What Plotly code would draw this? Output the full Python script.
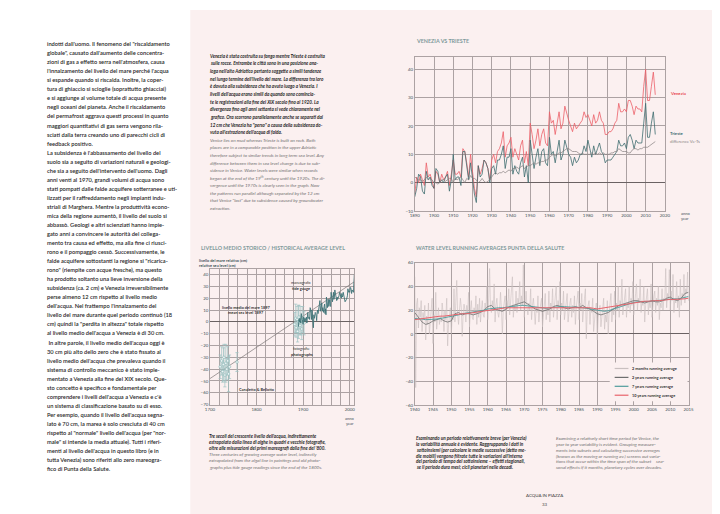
import plotly.graph_objects as go

W, H = 720, 514
PAGE = "#FBF0F0"
GRID = "#ACA2A3"
ZERO = "#6A6263"
TICK = "#3E5257"
TEAL = "#3E7477"
RED = "#EC5F68"
TITLE_C = "#7F9A9B"
FONT = "Lato"


def X(px):
    return px / W


def Y(py):
    return 1 - py / H


# ---------------- DATA: Venezia vs Trieste (annual, cm) ----------------
years_vt = list(range(1890, 2016))
venezia = [
    -4, 2, 0, 3, 1, -1, 7, 2, 3, 0,
    -2, 4, 3, 0, 3, 1, 2, 4, -1, 3,
    8, 3, 3, 4, 2, 12, 11, 7, 2, 10,
    3, -2, -5, 6, 3, 5, 8, 7, 5, 1,
    8, 10, 7, 11, 12, 14, 18, 9, 13, 14,
    16, 9, 12, 10, 8, 13, 15, 7, 11, 6,
    21, 17, 12, 15, 19, 13, 17, 19, 14, 13,
    25, 21, 22, 17, 21, 25, 19, 21, 27, 24,
    22, 20, 18, 21, 19, 20, 21, 22, 25, 23,
    24, 22, 20, 24, 21, 22, 25, 22, 21, 17,
    17, 18, 18, 19, 21, 22, 28, 25, 25, 26,
    25, 29, 29, 27, 24, 27, 26, 26, 25, 34,
    40, 29, 29, 34, 39, 31,
]
trieste = [
    -5, -2, 3, 2, -3, -4, 4, 1, 2, -1,
    -2, 5, 4, 0, 1, 0, 2, 3, -3, 1,
    10, 1, 2, 2, -1, 11, 11, 5, 1, 7,
    1, -4, -7, 6, 2, 3, 8, 7, 5, 0,
    5, 6, 3, 8, 8, 10, 13, 5, 9, 9,
    12, 3, 6, 4, 3, 7, 9, 2, 6, 0,
    15, 10, 5, 9, 12, 6, 11, 12, 7, 6,
    16, 10, 11, 7, 11, 15, 8, 10, 15, 12,
    10, 9, 6, 9, 7, 8, 10, 10, 13, 11,
    15, 12, 9, 13, 10, 12, 14, 11, 10, 7,
    8, 8, 8, 9, 10, 11, 15, 13, 13, 14,
    12, 16, 17, 15, 12, 15, 14, 14, 14, 21,
    28, 16, 16, 21, 25, 17,
]
diff_ve_ts = [
    2, 1.5, 1, 1, 0.5, 1, 2, 1, 1.5, 1,
    0, 0, -0.5, 0, 1, 1, 0.5, 1, 1.5, 1.5,
    0, 1.5, 1, 1.5, 2, 1, 0, 1.5, 1, 2.5,
    1.5, 1.5, 1, 0, 0.5, 1.5, 0.5, 0, 0.5, 1,
    2, 3, 3.5, 3, 3.5, 3.5, 4, 3.5, 4, 4.5,
    4, 5, 5, 5.5, 5, 5.5, 6, 5, 5.5, 6,
    6, 6.5, 7, 6.5, 7, 7, 7.5, 7.5, 8, 8,
    9, 9.5, 10, 9.5, 10, 10.5, 10.5, 11, 11.5, 12,
    12, 11.5, 11, 11, 11, 10.5, 10, 10.5, 10, 10,
    10, 10, 10.5, 10, 10.5, 10, 10.5, 10, 10.5, 10,
    10, 10, 10.5, 10.5, 11, 11, 12, 11.5, 11, 11,
    11, 10.5, 10.5, 11.5, 12, 12, 11.5, 12, 12, 12.5,
    12.5, 12.5, 13, 13.5, 14, 14.5,
]
vt_xticks = list(range(1890, 2021, 10))
vt_yticks = [-10, 0, 10, 20, 30, 40]

# ---------------- DATA: historical average level ----------------
trend_years = [1700, 2010]
trend_values = [-48, 34]
canaletto_years = [1722, 1725, 1727, 1729, 1730, 1732, 1734, 1736, 1738, 1740, 1742, 1758]
canaletto_values = [-38, -33, -42, -36, -30, -45, -35, -40, -33, -44, -38, -34]
canaletto_err = [10, 12, 9, 14, 11, 10, 16, 9, 12, 15, 10, 8]
photo_years = [1882, 1884, 1885, 1887, 1888, 1890, 1891, 1893, 1895, 1897, 1899, 1902]
photo_values = [-2, 3, -5, 2, -8, 0, 4, -3, 1, -6, 2, -1]
photo_err = [10, 12, 8, 11, 9, 14, 10, 8, 12, 9, 11, 10]
hist_xticks = [1700, 1800, 1900, 2000]
hist_xtick_labels = ["1700", "1800", "1900", "2000"]
hist_yticks = [40, 30, 20, 10, 0, -10, -20, -30, -40, -50, -60, -70]

# ---------------- DATA: running averages Punta della Salute ----------------
ra_years = list(range(1940, 2016))
months_2 = [
    48, -45, 25, 30, 5, 22, 14, 28, 2, 18, 12, 24, -5, 15, 8, 26,
    0, 12, 20, 30, -8, 16, 10, 35, 4, 14, 22, 8, 15, 10, 26, 18,
    2, 20, 12, 30, -10, 8, 18, 22, 0, 15, 12, 38, 10, 28, 45, 16,
    8, 20, 30, 22, -2, 16, 25, 20, 10, 24, 18, 35, 6, 20, 28, 14,
    12, 22, 16, 32, 8, 25, 14, 30, 10, 20, 28, 16, 14, 26, 20, 40,
    12, 30, 55, 22, 18, 28, 20, 42, 10, 24, 30, 18, 14, 22, 35, 20,
    0, 20, 26, 32, 12, 28, 22, 38, 16, 26, 30, 48, 14, 24, 20, 36,
    18, 30, 26, 44, 20, 32, 24, 58, 14, 28, 36, 22, 16, 26, 20, 38,
    12, 24, 30, 20, 8, 22, 18, 32, 10, 20, 26, 30, 6, 18, 24, 34,
    12, 22, 16, 36, 10, 26, 20, 38, 14, 24, 30, 40, 12, 28, 22, 44,
    16, 26, 20, 36, 12, 22, 28, 34, 10, 20, 26, 30, 14, 24, 18, 32,
    8, 22, 28, 36, 12, 26, 20, 34, 10, 24, 30, 38, -4, 20, 26, 28,
    8, 22, 18, 30, 2, 16, 20, 26, -5, 14, 18, 24, 6, 12, 22, 30,
    4, 16, 10, 28, 0, 18, 24, 34, 10, 22, 16, 36, 12, 26, 20, 40,
    14, 28, 24, 46, 16, 24, 32, 38, 14, 26, 22, 40, 18, 30, 24, 44,
    16, 28, 34, 42, 20, 30, 26, 46, 18, 28, 24, 40, 10, 24, 30, 38,
    16, 28, 22, 42, 14, 26, 32, 36, 18, 30, 24, 40, 12, 26, 22, 38,
    20, 30, 28, 55, 22, 34, 30, 54, 20, 36, 28, 50, 18, 30, 26, 44,
    22, 32, 14, 46, 24, 34, 30, 50, 26, 38, 34, 52, 28, 36,
]
months_2_x = [y + q * 0.25 for y in ra_years for q in range(4)][:len(months_2)]
years_2 = [
    18, 14, 10, 8, 9, 11, 12, 13, 11, 10,
    11, 17, 18, 16, 17, 17, 16, 17, 18, 20,
    23, 24, 21, 20, 19, 21, 23, 24, 25, 26,
    27, 25, 23, 21, 20, 19, 20, 21, 23, 24,
    23, 22, 21, 22, 23, 22, 24, 22, 21, 19,
    17, 16, 17, 18, 20, 22, 24, 25, 26, 27,
    28, 28, 27, 26, 27, 28, 27, 27, 28, 30,
    31, 29, 28, 30, 34, 35,
]
years_7 = [
    13, 13, 12.5, 12, 12, 12, 12.5, 13, 13.5, 14,
    14.5, 15, 16, 17, 17.5, 18, 18, 18.5, 19, 20,
    21, 21.5, 22, 22, 22, 22.5, 23, 23.5, 24, 24,
    24, 23.5, 23, 22.5, 22, 21.5, 21.5, 22, 22.5, 23,
    23, 23, 22.5, 22.5, 22.5, 22.5, 22, 21.5, 21, 20,
    19.5, 19, 19, 19.5, 20.5, 21.5, 23, 24, 25, 26,
    26.5, 27, 27, 27, 27, 27.5, 28, 28, 28.5, 29,
    29, 29.5, 29.5, 30, 31, 31.5,
]
years_10 = [
    12, 12.5, 13, 13.5, 14, 14, 14.5, 15, 15, 15.5,
    16, 16.5, 16.5, 17, 17, 17.5, 18, 18.5, 19, 19.5,
    20, 20.5, 21, 21, 21.5, 22, 22, 22, 22.5, 22.5,
    22.5, 22.5, 22.5, 22, 22, 22, 22, 22, 22, 22.5,
    22.5, 22.5, 22.5, 22.5, 22.5, 22.5, 22.5, 22, 22, 21.5,
    21, 21.5, 22, 22.5, 23, 24, 24.5, 25, 25.5, 26,
    26.5, 27, 27, 27.5, 27.5, 28, 28, 28, 28.5, 28.5,
    29, 29, 29, 29.5, 29.5, 30,
]
ra_names = ["2 months running average", "2 years running average",
            "7 years running average", "10 years running average"]
ra_xticks = list(range(1940, 2016, 5))
ra_yticks = [-60, -40, -20, 0, 20, 40, 60]

# ---------------- TEXT ----------------
left_lines = [
    "indotti dall'uomo. Il fenomeno del \"riscaldamento",
    "globale\", causato dall'aumento delle concentra-",
    "zioni di gas a effetto serra nell'atmosfera, causa",
    "l'innalzamento del livello del mare perché l'acqua",
    "si espande quando si riscalda. Inoltre, la coper-",
    "tura di ghiaccio si scioglie (soprattutto ghiacciai)",
    "e si aggiunge al volume totale di acqua presente",
    "negli oceani del pianeta. Anche il riscaldamento",
    "del permafrost aggrava questi processi in quanto",
    "maggiori quantitativi di gas serra vengono rila-",
    "sciati dalla terra creando uno di parecchi cicli di",
    "feedback positivo.",
    "La subsidenza è l'abbassamento del livello del",
    "suolo sia a seguito di variazioni naturali e geologi-",
    "che sia a seguito dell'intervento dell'uomo. Dagli",
    "anni venti al 1970, grandi volumi di acqua sono",
    "stati pompati dalle falde acquifere sotterranee e uti-",
    "lizzati per il raffreddamento negli impianti indu-",
    "striali di Marghera. Mentre la produttività econo-",
    "mica della regione aumentò, il livello del suolo si",
    "abbassò. Geologi e altri scienziati hanno impie-",
    "gato anni a convincere le autorità del collega-",
    "mento tra causa ed effetto, ma alla fine ci riusci-",
    "rono e il pompaggio cessò. Successivamente, le",
    "falde acquifere sottostanti la regione si \"ricarica-",
    "rono\" (riempite con acque fresche), ma questo",
    "ha prodotto soltanto una lieve inversione della",
    "subsidenza (ca. 2 cm) e Venezia irreversibilmente",
    "perse almeno 12 cm rispetto al livello medio",
    "dell'acqua. Nel frattempo l'innalzamento del",
    "livello del mare durante quel periodo continuò (18",
    "cm) quindi la \"perdita in altezza\" totale rispetto",
    "al livello medio dell'acqua a Venezia è di 30 cm.",
    "\u00a0In altre parole, il livello medio dell'acqua oggi è",
    "30 cm più alto dello zero che è stato fissato al",
    "livello medio dell'acqua che prevaleva quando il",
    "sistema di controllo meccanico è stato imple-",
    "mentato a Venezia alla fine del XIX secolo. Que-",
    "sto concetto è specifico e fondamentale per",
    "comprendere i livelli dell'acqua a Venezia e c'è",
    "un sistema di classificazione basato su di esso.",
    "Per esempio, quando il livello dell'acqua segna-",
    "lato è 70 cm, la marea è solo cresciuta di 40 cm",
    "rispetto al \"normale\" livello dell'acqua (per \"nor-",
    "male\" si intende la media attuale). Tutti i riferi-",
    "menti al livello dell'acqua in questo libro (e in",
    "tutta Venezia) sono riferiti allo zero mareogra-",
    "fico di Punta della Salute.",
]
mid_it_lines = [
    "Venezia è stata costruita su fango mentre Trieste è costruita",
    "sulle rocce. Entrambe le città sono in una posizione ana-",
    "loga nell'alto Adriatico pertanto soggette a simili tendenze",
    "nel lungo termine dell'livello del mare. La differenza tra loro",
    "è dovuta alla subsidenza che ha avuto luogo a Venezia. I",
    "livelli dell'acqua erano simili da quando sono comincia-",
    "te le registrazioni alla fine del XIX secolo fino al 1920. La",
    "divergenza fino agli anni settanta si vede chiaramente nel",
    "grafico. Ora scorrono parallelamente anche se separati dai",
    "12 cm che Venezia ha \"perso\" a causa della subsidenza do-",
    "vuta all'estrazione dell'acqua di falda.",
]
mid_en_lines = [
    "Venice lies on mud whereas Trieste is built on rock. Both",
    "places are in a comparable position in the upper Adriatic",
    "therefore subject to similar trends in long term sea level. Any",
    "difference between them in sea level change is due to sub-",
    "sidence in Venice. Water levels were similar when records",
    "began at the end of the 19<sup>th</sup> century until the 1920s. The di-",
    "vergence until the 1970s is clearly seen in the graph. Now",
    "the patterns run parallel although separated by the 12 cm",
    "that Venice \"lost\" due to subsidence caused by groundwater",
    "extraction.",
]
cap_mid_it = [
    "Tre secoli del crescente livello dell'acqua, indirettamente",
    "estrapolato dalla linea di alghe in quadri e vecchie fotografie,",
    "oltre alle misurazioni dei primi mareografi dalla fine del '800.",
]
cap_mid_en = [
    "Three centuries of growing average water level, indirectly",
    "extrapolated from the algal line in paintings and old photo-",
    "graphs plus tide gauge readings since the end of the 1800s.",
]
cap_right_it = [
    "Esaminando un periodo relativamente breve (per Venezia)",
    "la variabilità annuale è evidente. Raggruppando i dati in",
    "sottoinsiemi (per calcolare le medie successive (detto me-",
    "die mobili) vengono filtrate tutte le variazioni all'interno",
    "del periodo di tempo del sottoinsieme – effetti stagionali,",
    "se il periodo dura mesi; cicli planetari nelle decadi.",
]
cap_right_en = [
    "Examining a relatively short time period for Venice, the",
    "year to year variability is evident. Grouping measure-",
    "ments into subsets and calculating successive averages",
    "(known as the moving or running av.) screens out varia-",
    "tions that occur within the time span of the subset – sea-",
    "sonal effects if it months, planetary cycles over decades.",
]

# ---------------- FIGURE ----------------
fig = go.Figure()

# Chart 1: Venezia vs Trieste
fig.add_trace(go.Scatter(x=years_vt, y=venezia, mode="lines", line=dict(color=RED, width=0.8),
                         xaxis="x", yaxis="y", name="Venezia"))
fig.add_trace(go.Scatter(x=years_vt, y=trieste, mode="lines", line=dict(color="#3F6D70", width=0.8),
                         xaxis="x", yaxis="y", name="Trieste"))
fig.add_trace(go.Scatter(x=years_vt, y=diff_ve_ts, mode="lines", line=dict(color="#858080", width=0.7),
                         xaxis="x", yaxis="y", name="difference Ve-Ts"))

# Chart 2: historical
fig.add_trace(go.Scatter(x=trend_years, y=trend_values, mode="lines", line=dict(color="#7D7777", width=0.7),
                         xaxis="x2", yaxis="y2", name="trend"))
fig.add_trace(go.Scatter(x=canaletto_years, y=canaletto_values, mode="markers",
                         marker=dict(size=2.6, color="#EEF5F5", line=dict(color="#88B5B5", width=0.6)),
                         error_y=dict(type="data", array=canaletto_err, color="#9EC3C3", thickness=0.7, width=1.6),
                         xaxis="x2", yaxis="y2", name="Canaletto & Bellotto"))
fig.add_trace(go.Scatter(x=photo_years, y=photo_values, mode="markers",
                         marker=dict(size=2.6, color="#EEF5F5", line=dict(color="#88B5B5", width=0.6)),
                         error_y=dict(type="data", array=photo_err, color="#9EC3C3", thickness=0.7, width=1.6),
                         xaxis="x2", yaxis="y2", name="fotografie"))
fig.add_trace(go.Scatter(x=years_vt, y=venezia, mode="lines", line=dict(color=TEAL, width=0.9),
                         xaxis="x2", yaxis="y2", name="tide gauge"))

# Chart 3: running averages
ra_colors = ["#C9C0C0", "#6E6E6E", "#4E9C9C", "#E8636B"]
ra_widths = [0.6, 0.8, 0.9, 1.0]
fig.add_trace(go.Scatter(x=months_2_x, y=months_2, mode="lines", line=dict(color=ra_colors[0], width=ra_widths[0]),
                         xaxis="x3", yaxis="y3", name=ra_names[0]))
for vals, c, w, n in zip([years_2, years_7, years_10], ra_colors[1:], ra_widths[1:], ra_names[1:]):
    fig.add_trace(go.Scatter(x=ra_years, y=vals, mode="lines", line=dict(color=c, width=w),
                             xaxis="x3", yaxis="y3", name=n))

tickfont = dict(family=FONT, size=4.4, color=TICK)
base = dict(showgrid=True, gridcolor=GRID, gridwidth=0.6, ticks="", tickfont=tickfont,
            showline=True, mirror=True, linecolor=GRID, linewidth=0.6, zeroline=False)

fig.update_layout(
    width=W, height=H, margin=dict(l=0, r=0, t=0, b=0),
    paper_bgcolor="#FFFFFF", plot_bgcolor="rgba(0,0,0,0)", showlegend=False,
    xaxis=dict(base, domain=[X(408), X(662)], range=[1890, 2020], tickmode="array", tickvals=vt_xticks,
               anchor="y"),
    yaxis=dict(base, domain=[Y(203), Y(47)], range=[-10, 44.5], tickmode="array", tickvals=vt_yticks,
               zeroline=True, zerolinecolor=ZERO, zerolinewidth=0.8, anchor="x"),
    xaxis2=dict(base, domain=[X(200), X(346.7)], range=[1700, 2010], tickmode="array",
                tickvals=hist_xticks, ticktext=hist_xtick_labels, anchor="y2",
                minor=dict(tickmode="linear", tick0=1700, dtick=20, showgrid=True, gridcolor=GRID, gridwidth=0.5)),
    yaxis2=dict(base, domain=[Y(398.5), Y(261.2)], range=[-70, 45], tickmode="array", tickvals=hist_yticks,
                zeroline=True, zerolinecolor=ZERO, zerolinewidth=0.8, anchor="x2"),
    xaxis3=dict(base, domain=[X(408), X(686)], range=[1940, 2015], tickmode="array", tickvals=ra_xticks,
                anchor="y3"),
    yaxis3=dict(base, domain=[Y(399.3), Y(255)], range=[-60, 60], tickmode="array", tickvals=ra_yticks,
                zeroline=True, zerolinecolor=ZERO, zerolinewidth=0.8, anchor="x3"),
)

shapes = [dict(type="rect", xref="paper", yref="paper", x0=X(180), x1=1, y0=0, y1=1,
               fillcolor=PAGE, line=dict(width=0), layer="below")]
# legend box for chart 3
shapes.append(dict(type="rect", xref="paper", yref="paper", x0=X(606), x1=X(685), y0=Y(395), y1=Y(356),
                   fillcolor=PAGE, line=dict(width=0), layer="above"))
leg_y = [362, 371, 380, 389]
for yy, c in zip(leg_y, ra_colors):
    shapes.append(dict(type="line", xref="paper", yref="paper", x0=X(611), x1=X(625), y0=Y(yy), y1=Y(yy),
                       line=dict(color=c, width=1.2), layer="above"))
fig.update_layout(shapes=shapes)

ann = []


def txt(x, y, s, size=5.0, color="#222222", anchor="left", weight="normal", family=FONT):
    ann.append(dict(x=X(x), y=Y(y), xref="paper", yref="paper", text=s, showarrow=False,
                    xanchor=anchor, yanchor="middle", borderpad=0,
                    font=dict(family=family, size=size, color=color, weight=weight)))


for i, s in enumerate(left_lines):
    txt(34, 34 + i * 9.13, s, size=5.7, color="#1F1F1F", weight=600)
for i, s in enumerate(mid_it_lines):
    txt(199, 46 + i * 7.75, "<i>" + s + "</i>", size=4.6, color="#1F1F1F", weight="bold")
for i, s in enumerate(mid_en_lines):
    txt(199, 131 + i * 7.67, "<i>" + s + "</i>", size=4.6, color="#6F6F6F")
for i, s in enumerate(cap_mid_it):
    txt(198, 430 + i * 6.2, "<i>" + s + "</i>", size=4.6, color="#1F1F1F", weight="bold")
for i, s in enumerate(cap_mid_en):
    txt(198, 448.6 + i * 6.2, "<i>" + s + "</i>", size=4.6, color="#6F6F6F")
for i, s in enumerate(cap_right_it):
    txt(408, 432.7 + i * 5.75, "<i>" + s + "</i>", size=4.6, color="#1F1F1F", weight="bold")
for i, s in enumerate(cap_right_en):
    txt(550, 432.7 + i * 5.75, "<i>" + s + "</i>", size=4.6, color="#6F6F6F")

# chart titles
txt(408, 31, "VENEZIA VS TRIESTE", size=5.4, color=TITLE_C, weight="bold")
txt(408, 240, "WATER LEVEL RUNNING AVERAGES PUNTA DELLA SALUTE", size=5.4, color=TITLE_C, weight="bold")
txt(190, 240, "LIVELLO MEDIO STORICO / HISTORICAL AVERAGE LEVEL", size=5.4, color=TITLE_C, weight="bold")
txt(188, 253, "livello del mare relativo (cm)", size=3.9, color="#3E5257", weight="bold")
txt(188, 258.5, "relative sea level (cm)", size=3.9, color="#3E5257", weight="bold")

# chart 1 labels
txt(666, 84, "Venezia", size=4.3, color="#E8454F", weight="bold")
txt(666, 125, "Trieste", size=4.3, color="#3F6D70", weight="bold")
txt(666, 133, "difference Ve-Ts", size=4.3, color="#8A8585")
txt(677, 205, "anno", size=4.0, color="#3E5257")
txt(677, 211, "year", size=4.0, color="#3E5257")

# chart 2 labels
txt(342, 413, "anno", size=4.0, color="#3E5257", anchor="center")
txt(342, 418, "year", size=4.0, color="#3E5257", anchor="center")
txt(237, 300, "livello medio del mare 1897", size=3.9, color="#333333", anchor="center", weight="bold")
txt(237, 305, "mean sea level 1897", size=3.9, color="#333333", anchor="center", weight="bold")
txt(292, 275, "mareografo", size=3.9, color="#333333", anchor="center")
txt(292, 281, "tide gauge", size=3.9, color="#333333", anchor="center", weight="bold")
txt(293, 342, "fotografie", size=3.9, color="#333333", anchor="center")
txt(293, 348, "photographs", size=3.9, color="#333333", anchor="center", weight="bold")
txt(248, 383, "Canaletto & Bellotto", size=3.9, color="#333333", anchor="center", weight="bold")

# chart 3 legend text
for yy, n in zip(leg_y, ra_names):
    txt(628, yy, n, size=3.9, color="#333333", weight="bold")

# footer
txt(540, 490, "ACQUA IN PIAZZA", size=4.4, color="#3A3A3A", anchor="center")
txt(540, 499, "33", size=4.4, color="#3A3A3A", anchor="center")

fig.update_layout(annotations=ann)
fig.write_html("out.html")
